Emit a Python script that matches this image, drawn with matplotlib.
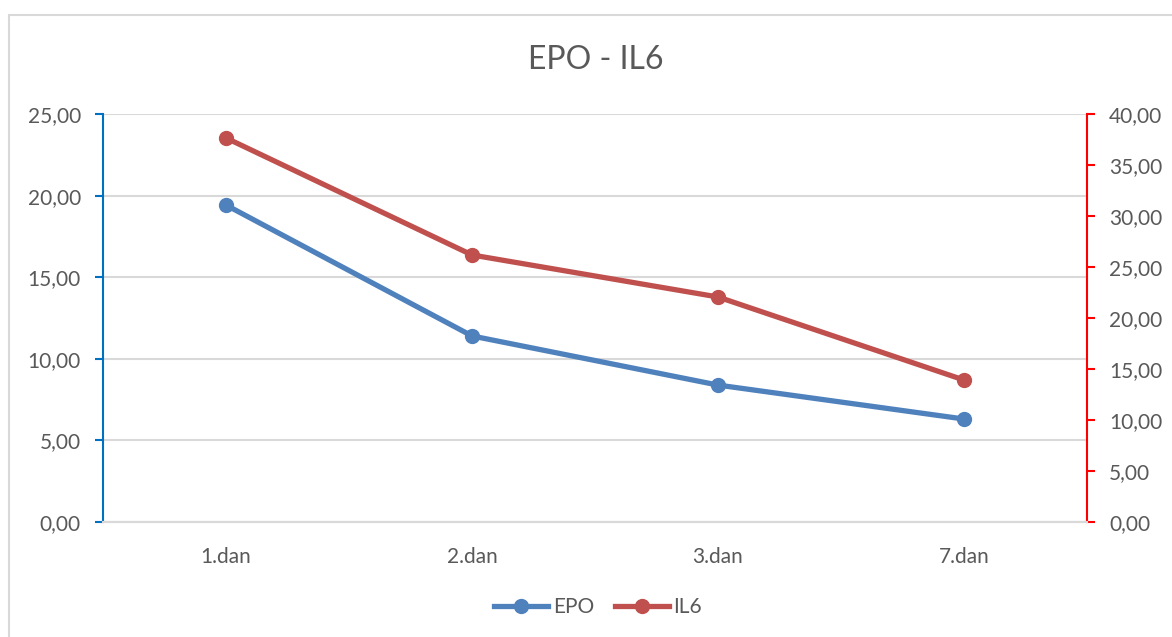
import matplotlib.pyplot as plt
from matplotlib.patches import Rectangle
from matplotlib.lines import Line2D

# data
days = ["1.dan", "2.dan", "3.dan", "7.dan"]
epo = [19.42, 11.40, 8.39, 6.31]
il6 = [37.65, 26.18, 22.06, 13.92]

epo_color = "#4F81BD"
il6_color = "#C0504D"
txt = "#595959"

plt.rcParams['font.family'] = ['Lato', 'DejaVu Sans']

fig = plt.figure(figsize=(11.72, 6.37), dpi=100)
# chart frame (right and bottom edges fall outside the picture)
fig.patches.append(Rectangle((9 / 1172, -0.05), 1.1, 1.05 - 15 / 637,
                             transform=fig.transFigure, fill=False,
                             edgecolor="#D9D9D9", linewidth=1.5))

ax1 = fig.add_axes([103 / 1172, 115 / 637, 984 / 1172, 408 / 637])
ax2 = ax1.twinx()

x = range(len(days))
ax1.plot(x, epo, color=epo_color, lw=3.8, marker="o", ms=10, label="EPO")
ax2.plot(x, il6, color=il6_color, lw=3.8, marker="o", ms=10, label="IL6")

ax1.set_xlim(-0.5, 3.5)
ax1.set_ylim(0, 25)
ax2.set_ylim(0, 40)
ax1.set_yticks(range(0, 26, 5))
ax2.set_yticks(range(0, 41, 5))
ax1.set_yticklabels([f"{v},00" for v in range(0, 26, 5)])
ax2.set_yticklabels([f"{v},00" for v in range(0, 41, 5)])
ax1.set_xticks(list(x))
ax1.set_xticklabels(days)

ax1.grid(axis="y", color="#D9D9D9", lw=1.5)
ax1.set_axisbelow(True)

for a in (ax1, ax2):
    a.spines["top"].set_visible(False)
    a.spines["bottom"].set_color("#D9D9D9")
    a.spines["bottom"].set_linewidth(1.5)
ax1.spines["right"].set_visible(False)
ax2.spines["left"].set_visible(False)
ax1.spines["left"].set_color("#0070C0")
ax1.spines["left"].set_linewidth(1.5)
ax2.spines["right"].set_color("#FF0000")
ax2.spines["right"].set_linewidth(1.5)

ax1.tick_params(axis="y", colors="#0070C0", labelcolor=txt, labelsize=15,
                length=6, width=1.5, pad=10)
ax2.tick_params(axis="y", colors="#FF0000", labelcolor=txt, labelsize=15,
                length=6, width=1.5, pad=10)
ax1.tick_params(axis="x", length=0, labelcolor=txt, labelsize=15, pad=18)

fig.text(596 / 1172, 1 - 60 / 637, "EPO - IL6", ha="center", va="center",
         fontsize=23, color=txt)

handles = [Line2D([], [], color=epo_color, lw=3.8, marker="o", ms=10),
           Line2D([], [], color=il6_color, lw=3.8, marker="o", ms=10)]
fig.legend(handles, ["EPO", "IL6"], loc="center", bbox_to_anchor=(598 / 1172, 1 - 607 / 637),
           ncol=2, frameon=False, fontsize=15, labelcolor=txt,
           handlelength=2.6, handletextpad=0.2, columnspacing=1.0)

fig.savefig("out.png", dpi=100)
